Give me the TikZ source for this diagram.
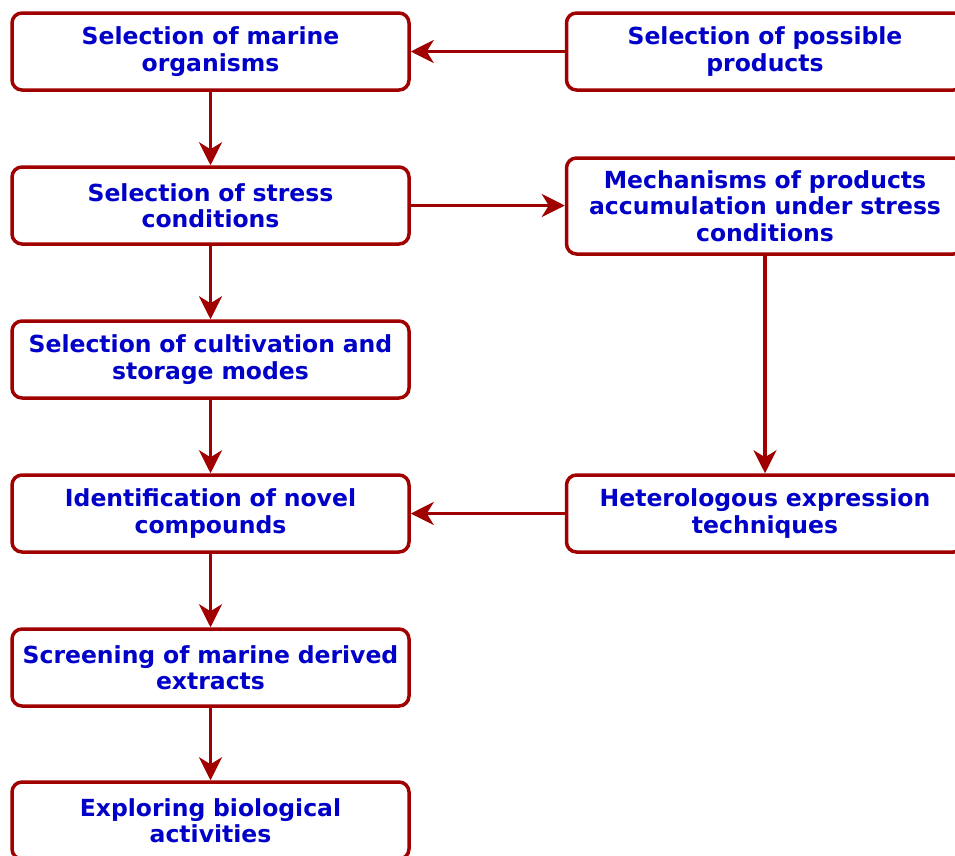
\documentclass[tikz,border=0pt]{standalone}
\usepackage{fontspec}
\setmainfont{DejaVu Sans}
\usetikzlibrary{arrows.meta}
\definecolor{boxred}{RGB}{160,0,0}
\definecolor{txtblue}{RGB}{0,0,200}
\begin{document}
\begin{tikzpicture}[x=1pt,y=-1pt,
  stage/.style={draw=boxred,line width=3.5pt,rounded corners=10pt,fill=white,
    minimum width=397pt,minimum height=77pt,text width=390pt,align=center,
    text=txtblue,font=\fontsize{23.5}{26.5}\selectfont\bfseries,inner sep=0pt},
  flow/.style={draw=boxred,line width=3.5pt,-{Stealth[length=23pt,width=23pt,inset=7pt]}}]
\useasboundingbox (0,0) rectangle (955,855);

\def\xl{210.5}
\def\xr{765}

\node[stage] (organisms) at (\xl,51.5) {Selection of marine\\organisms};
\node[stage] (stress) at (\xl,205.5) {Selection of stress\\conditions};
\node[stage] (cultivation) at (\xl,359.5) {Selection of cultivation and\\storage modes};
\node[stage] (compounds) at (\xl,513.5) {Identification of novel\\compounds};
\node[stage] (screening) at (\xl,667.5) {Screening of marine derived\\extracts};
\node[stage] (activities) at (\xl,820.5) {Exploring biological\\activities};

\node[stage] (products) at (\xr,51.5) {Selection of possible\\products};
\node[stage,minimum height=96pt] (mechanisms) at (\xr,206) {Mechanisms of products\\accumulation under stress\\conditions};
\node[stage] (heterologous) at (\xr,513.5) {Heterologous expression\\techniques};

\draw[flow] (organisms) -- (stress);
\draw[flow] (stress) -- (cultivation);
\draw[flow] (cultivation) -- (compounds);
\draw[flow] (compounds) -- (screening);
\draw[flow] (screening) -- (activities);

\draw[flow] (products) -- (organisms);
\draw[flow] (stress.east) -- (mechanisms.west |- stress.east);
\draw[flow] (mechanisms) -- (heterologous);
\draw[flow] (heterologous) -- (compounds);

\end{tikzpicture}
\end{document}
